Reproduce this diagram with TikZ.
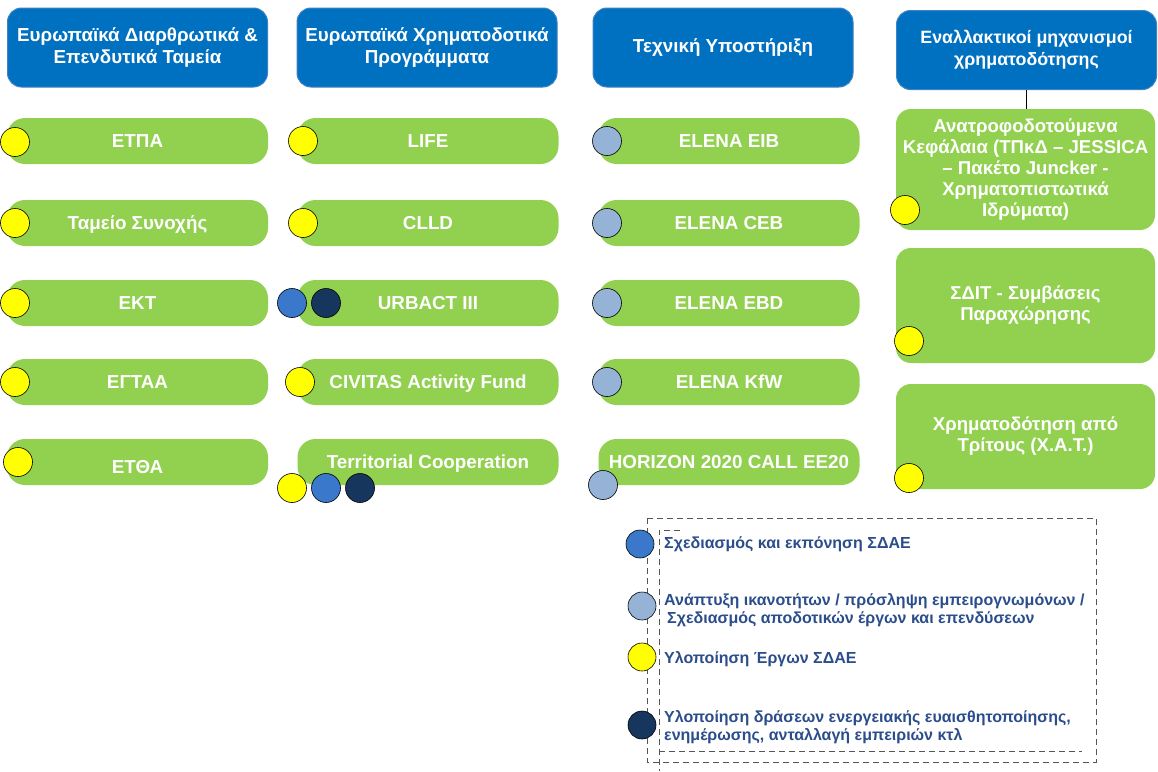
\documentclass[tikz,border=0pt]{standalone}
\usepackage{fontspec}
\setmainfont{Liberation Sans}
\definecolor{hblue}{HTML}{0070C0}
\definecolor{hborder}{HTML}{3F82C6}
\definecolor{lgreen}{HTML}{92D050}
\definecolor{cyel}{HTML}{FFFF00}
\definecolor{cblue}{HTML}{3A78CB}
\definecolor{cnavy}{HTML}{17365D}
\definecolor{cgray}{HTML}{95B3D7}
\definecolor{legtext}{HTML}{2B4D8C}
\definecolor{dashgray}{HTML}{555555}
\begin{document}
\begin{tikzpicture}[x=1pt,y=-1pt,
  hdr/.style={draw=hborder, line width=1pt, fill=hblue, rounded corners=14pt,
    minimum width=260pt, minimum height=79pt, text=white,
    font=\bfseries\fontsize{18.8}{22}\selectfont, align=center, inner sep=0pt},
  gbox/.style={fill=lgreen, rounded corners=18pt, minimum width=261pt,
    minimum height=46pt, text=white, text height=13.5pt, text depth=0pt,
    font=\bfseries\fontsize{18.8}{21}\selectfont, inner sep=0pt},
  abox/.style={fill=lgreen, rounded corners=15pt, minimum width=259pt,
    text=white, font=\bfseries\fontsize{18.6}{21}\selectfont, align=center, inner sep=0pt},
  circ/.style={circle, draw=black, line width=0.6pt, minimum size=29pt, inner sep=0pt},
  yc/.style={circ, fill=cyel},
  bc/.style={circ, fill=cblue},
  nc/.style={circ, fill=cnavy},
  gc/.style={circ, fill=cgray},
  legtxt/.style={anchor=west, text=legtext, font=\bfseries\fontsize{16}{18.5}\selectfont,
    align=left, inner sep=0pt},
  dsh/.style={draw=dashgray, line width=1pt, dash pattern=on 6pt off 4pt}
]
\useasboundingbox[fill=white] (0,0) rectangle (1158,771);

% headers
\node[hdr] (h1) at (137.5,47.5) {Ευρωπαϊκά Διαρθρωτικά \&\\Επενδυτικά Ταμεία};
\node[hdr] (h2) at (427,47.5) {Ευρωπαϊκά Χρηματοδοτικά\\Προγράμματα};
\node[hdr] (h3) at (723,47.5) {Τεχνική Υποστήριξη};
\node[hdr, font=\bfseries\fontsize{17.8}{22}\selectfont] (h4) at (1026.5,50) {Εναλλακτικοί μηχανισμοί\\χρηματοδότησης};

% column 1
\node[gbox] (a1) at (137.5,141) {ΕΤΠΑ};
\node[gbox] (a2) at (137.5,223) {Ταμείο Συνοχής};
\node[gbox] (a3) at (137.5,303) {ΕΚΤ};
\node[gbox] (a4) at (137.5,382) {ΕΓΤΑΑ};
\node[gbox] (a5) at (137.5,462) {\raisebox{-5pt}[\height][\depth]{ΕΤΘΑ}};

% column 2
\node[gbox] (b1) at (428,141) {LIFE};
\node[gbox] (b2) at (428,223) {CLLD};
\node[gbox] (b3) at (428,303) {URBACT III};
\node[gbox] (b4) at (428,382) {CIVITAS Activity Fund};
\node[gbox] (b5) at (428,462) {Territorial Cooperation};

% column 3
\node[gbox] (c1) at (729,141) {ELENA EIB};
\node[gbox] (c2) at (729,223) {ELENA CEB};
\node[gbox] (c3) at (729,303) {ELENA EBD};
\node[gbox] (c4) at (729,382) {ELENA KfW};
\node[gbox] (c5) at (729,462) {HORIZON 2020 CALL EE20};

% column 4
\node[abox, minimum height=121pt] (d1) at (1025.5,169.5)
  {Ανατροφοδοτούμενα\\Κεφάλαια (ΤΠκΔ – JESSICA\\– Πακέτο Juncker -\\Χρηματοπιστωτικά\\Ιδρύματα)};
\node[abox, minimum height=115pt] (d2) at (1025.5,305.5) {ΣΔΙΤ - Συμβάσεις\\Παραχώρησης};
\node[abox, minimum height=105pt] (d3) at (1025.5,436.5) {Χρηματοδότηση από\\Τρίτους (Χ.Α.Τ.)};

\draw[line width=0.8pt] (h4.south) -- (h4.south |- d1.north);

% circles column 1
\node[yc] (ya1) at (15,142) {};
\node[yc] (ya2) at (15,223) {};
\node[yc] (ya3) at (15,303) {};
\node[yc] (ya4) at (15,382) {};
\node[yc] (ya5) at (18,462) {};

% circles column 2
\node[yc] (yb1) at (303,141) {};
\node[yc] (yb2) at (303,223) {};
\node[bc] (bb3) at (292,303) {};
\node[nc] (nb3) at (326,303) {};
\node[yc] (yb4) at (300,382) {};
\node[yc] (yb5) at (292,488) {};
\node[bc] (bb5) at (326,488) {};
\node[nc] (nb5) at (360,488) {};

% circles column 3
\node[gc] (gc1) at (607,141) {};
\node[gc] (gc2) at (607,223) {};
\node[gc] (gc3) at (607,303) {};
\node[gc] (gc4) at (607,382) {};
\node[gc] (gc5) at (603,485) {};

% circles column 4
\node[yc] (yd1) at (905,210) {};
\node[yc] (yd2) at (909,341) {};
\node[yc] (yd3) at (909,478) {};

% legend frames
\draw[dsh] (647,518) rectangle (1096,762);
\draw[dsh] (680,530) -- (659,530) -- (659,771);
\draw[dsh] (659,751) -- (1082,751);

% legend entries
\node[circ, fill=cblue, minimum size=28pt] (l1) at (640,544) {};
\node[circ, fill=cgray, minimum size=28pt] (l2) at (642,606) {};
\node[circ, fill=cyel, minimum size=28pt] (l3) at (642,657) {};
\node[circ, fill=cnavy, minimum size=28pt] (l4) at (642,725) {};

\node[legtxt] (t1) at (664,544) {Σχεδιασμός και εκπόνηση ΣΔΑΕ};
\node[legtxt] (t2) at (664,610) {Ανάπτυξη ικανοτήτων / πρόσληψη εμπειρογνωμόνων /\\\hspace*{3pt}Σχεδιασμός αποδοτικών έργων και επενδύσεων};
\node[legtxt] (t3) at (664,659) {Υλοποίηση Έργων ΣΔΑΕ};
\node[legtxt] (t4) at (664,727) {Υλοποίηση δράσεων ενεργειακής ευαισθητοποίησης,\\ενημέρωσης, ανταλλαγή εμπειριών κτλ};
\end{tikzpicture}
\end{document}
